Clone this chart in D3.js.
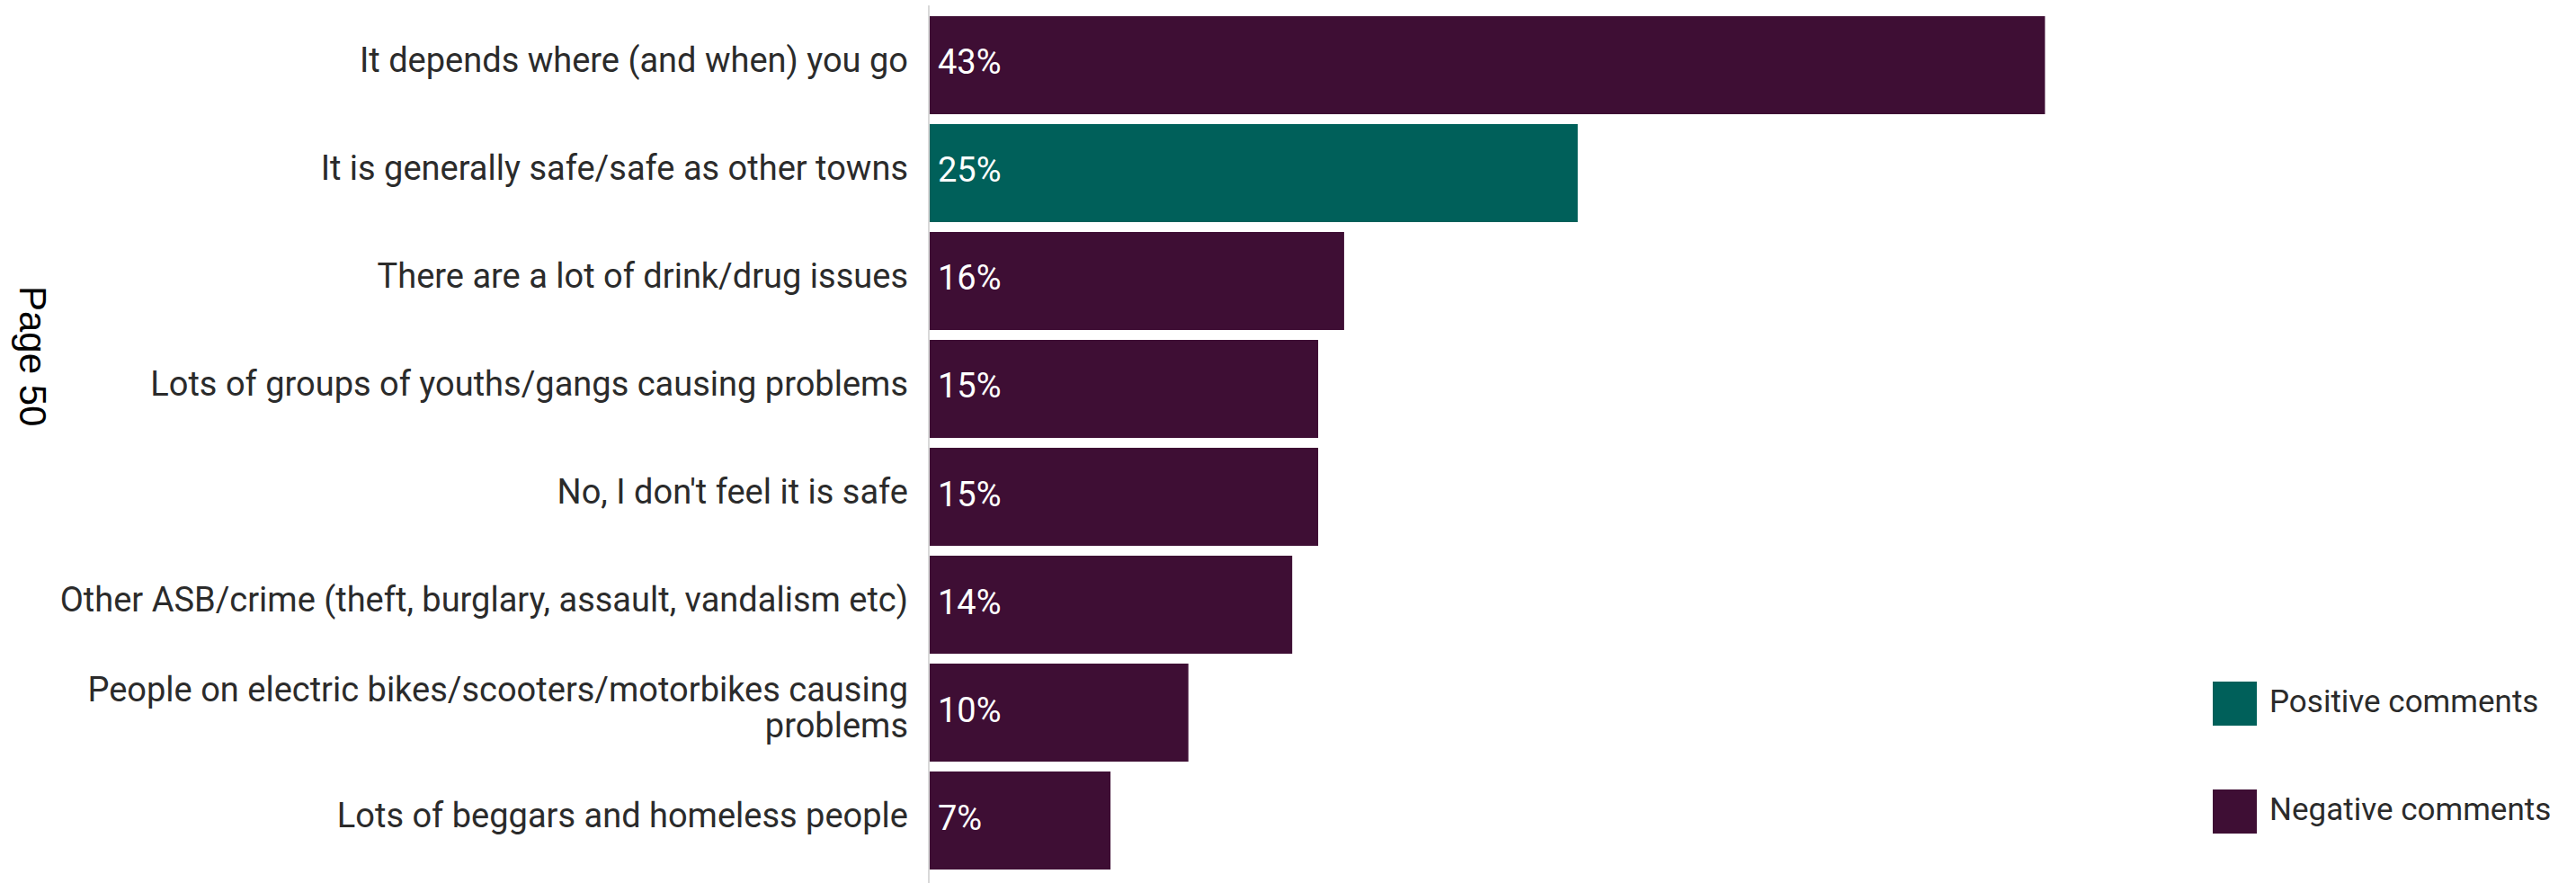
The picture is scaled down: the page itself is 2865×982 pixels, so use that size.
<!DOCTYPE html>
<html>
<head>
<meta charset="utf-8">
<script src="https://cdn.jsdelivr.net/npm/d3@7"></script>
<style>
  html, body { margin: 0; padding: 0; background: #ffffff; }
  svg { display: block; }
</style>
</head>
<body>
<svg id="chart" width="2865" height="982"></svg>
<script>
// ---- data ----
const categories = [
  "It depends where (and when) you go",
  "It is generally safe/safe as other towns",
  "There are a lot of drink/drug issues",
  "Lots of groups of youths/gangs causing problems",
  "No, I don't feel it is safe",
  "Other ASB/crime (theft, burglary, assault, vandalism etc)",
  "People on electric bikes/scooters/motorbikes causing problems",
  "Lots of beggars and homeless people"
];
const values = [43, 25, 16, 15, 15, 14, 10, 7];
const commentType = ["Negative", "Positive", "Negative", "Negative", "Negative", "Negative", "Negative", "Negative"];
const legendLabels = ["Positive comments", "Negative comments"];
const legendKeys = ["Positive", "Negative"];
const pageLabel = "Page 50";

// ---- layout ----
const W = 2865, H = 982;
const axisX = 1033;
const svg = d3.select("#chart");

const color = d3.scaleOrdinal().domain(["Positive", "Negative"]).range(["#00605a", "#3e0e34"]);

const x = d3.scaleLinear().domain([0, 50]).range([axisX, axisX + 50 * 28.87]);
const y = d3.scaleBand().domain(categories).range([12.5, 972.5]).paddingInner(0.0917).paddingOuter(0.0458);

const data = categories.map((c, i) => ({ cat: c, value: values[i], type: commentType[i] }));

// bars
svg.append("g").selectAll("rect").data(data).join("rect")
  .attr("x", x(0))
  .attr("y", d => y(d.cat))
  .attr("width", d => x(d.value) - x(0))
  .attr("height", y.bandwidth())
  .attr("fill", d => color(d.type));

// axis line
svg.append("line")
  .attr("x1", axisX).attr("x2", axisX)
  .attr("y1", 6).attr("y2", H)
  .attr("stroke", "#d9d9d9").attr("stroke-width", 2);

// value labels
svg.append("g").selectAll("text").data(data).join("text")
  .attr("x", x(0) + 10)
  .attr("y", d => y(d.cat) + y.bandwidth() / 2 + 10)
  .attr("fill", "#ffffff")
  .attr("font-family", "Roboto, sans-serif")
  .attr("font-size", 38)
  .text(d => d.value + "%");

// category labels with wrap
const labelFont = 38;
const maxW = 990;
const labG = svg.append("g");
data.forEach(d => {
  const t = labG.append("text")
    .attr("text-anchor", "end")
    .attr("fill", "#2b2b2b")
    .attr("font-family", "Roboto, sans-serif")
    .attr("font-size", labelFont);
  const words = d.cat.split(" ");
  const lines = [];
  let line = [];
  const probe = t.append("tspan");
  words.forEach(w => {
    line.push(w);
    probe.text(line.join(" "));
    if (probe.node().getComputedTextLength() > maxW && line.length > 1) {
      line.pop();
      lines.push(line.join(" "));
      line = [w];
    }
  });
  lines.push(line.join(" "));
  probe.remove();
  const cy = y(d.cat) + y.bandwidth() / 2 + 7.5;
  const lh = 40;
  const y0 = cy - (lines.length - 1) * lh / 2;
  lines.forEach((l, i) => {
    t.append("tspan").attr("x", axisX - 23).attr("y", y0 + i * lh).text(l);
  });
});

// legend
const legY = [758, 878];
const lg = svg.append("g");
legendKeys.forEach((k, i) => {
  lg.append("rect")
    .attr("x", 2461).attr("y", legY[i])
    .attr("width", 49).attr("height", 49)
    .attr("fill", color(k));
  lg.append("text")
    .attr("x", 2524).attr("y", legY[i] + 34)
    .attr("fill", "#2b2b2b")
    .attr("font-family", "Roboto, sans-serif")
    .attr("font-size", 35)
    .text(legendLabels[i]);
});

// page label
svg.append("text")
  .attr("transform", "translate(22,318) rotate(90)")
  .attr("font-family", "'Liberation Sans', Arial, sans-serif")
  .attr("font-size", 42)
  .attr("fill", "#000000")
  .text(pageLabel);
</script>
</body>
</html>
